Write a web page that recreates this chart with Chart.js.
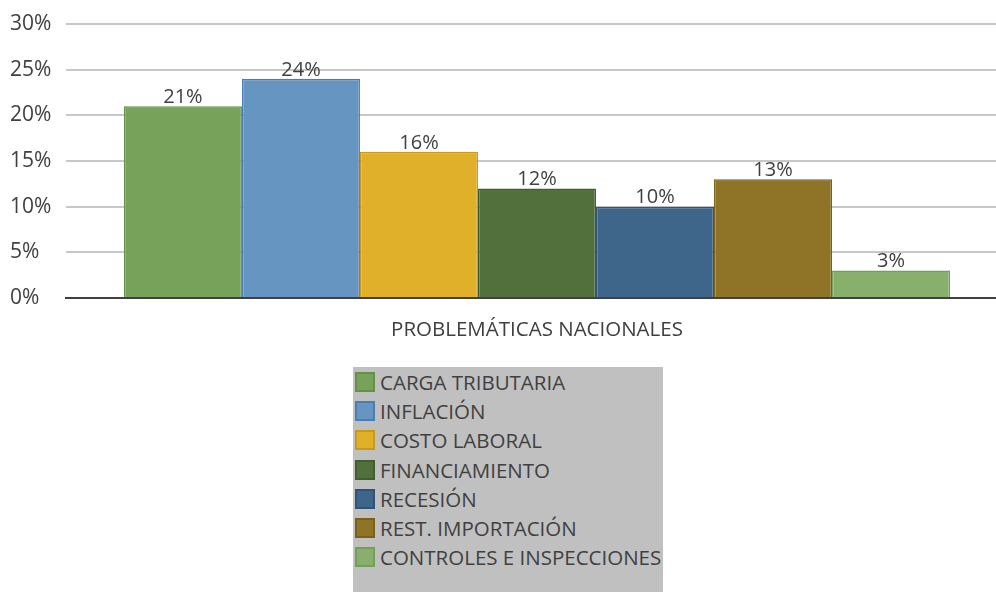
<!DOCTYPE html>
<html>
<head>
<meta charset="utf-8">
<script src="https://cdn.jsdelivr.net/npm/chart.js@4/dist/chart.umd.min.js"></script>
<style>
  body { margin: 0; background: #fff; font-family: "Open Sans", sans-serif; }
  #wrap { position: relative; width: 996px; height: 592px; overflow: hidden; }
  #legend {
    position: absolute; left: 353px; top: 367px; width: 310px; height: 240px;
    background: #c0c0c0; box-sizing: border-box; padding-top: 0px;
  }
  .item { height: 29.3px; display: flex; align-items: center; color: #404040;
    font-size: 20.5px; white-space: nowrap; }
  .sw { width: 20px; height: 20px; margin: 0 5px 0 2px; box-sizing: border-box; border: 2px solid; }
</style>
</head>
<body>
<div id="wrap">
  <canvas id="choreBarChart" width="1008" height="350"></canvas>
  <div id="legend"></div>
</div>
<script>
// categories / series
var categories = ['PROBLEMÁTICAS NACIONALES'];
var seriesNames = ['CARGA TRIBUTARIA', 'INFLACIÓN', 'COSTO LABORAL', 'FINANCIAMIENTO',
    'RECESIÓN', 'REST. IMPORTACIÓN', 'CONTROLES E INSPECCIONES'];
var seriesValues = [21, 24, 16, 12, 10, 13, 3];
var yTicks = [0, 5, 10, 15, 20, 25, 30];

var fills = ['#77a25a', '#6795c2', '#e0b02a', '#51703c', '#3e658a', '#8f7428', '#88b06c'];
var borders = ['#65904a', '#4a7db0', '#c89a18', '#415f2e', '#2f5478', '#7a6118', '#72a058'];

var datasets = seriesNames.map((name, i) => {
    return {
        label: name,
        data: [seriesValues[i]],
        backgroundColor: fills[i],
        borderColor: borders[i],
        borderWidth: 1.5,
        categoryPercentage: 0.877,
        barPercentage: 1
    };
});

// value labels over each bar
var valueLabels = {
    id: 'valueLabels',
    afterDatasetsDraw(chart) {
        var ctx = chart.ctx;
        ctx.save();
        ctx.font = '20px "Open Sans"';
        ctx.fillStyle = '#404040';
        ctx.textAlign = 'center';
        ctx.textBaseline = 'bottom';
        chart.data.datasets.forEach((ds, i) => {
            var bar = chart.getDatasetMeta(i).data[0];
            ctx.fillText(ds.data[0] + '%', bar.x, bar.y + 1);
        });
        ctx.restore();
    }
};

var chart = new Chart('choreBarChart', {
    type: 'bar',
    data: { labels: categories, datasets: datasets },
    plugins: [valueLabels],
    options: {
        responsive: false,
        animation: false,
        layout: { padding: { left: 10, right: 0, top: 24, bottom: 0 } },
        plugins: { legend: { display: false }, tooltip: { enabled: false } },
        scales: {
            x: {
                grid: { display: false },
                border: { color: '#404040', width: 2 },
                ticks: { color: '#404040', padding: 12, font: { family: 'Open Sans', size: 20.5 } },
                afterFit(scale) { scale.height = 52; }
            },
            y: {
                min: 0,
                max: 30,
                afterBuildTicks(scale) { scale.ticks = yTicks.map(v => ({ value: v })); },
                grid: { color: '#c8c8c8', lineWidth: 2, drawTicks: false },
                border: { display: false },
                ticks: {
                    color: '#404040',
                    padding: 0,
                    crossAlign: 'far',
                    font: { family: 'Open Sans', size: 21 },
                    callback: v => v + '%'
                },
                afterFit(scale) { scale.width = 56; }
            }
        }
    }
});

// legend box
var legend = document.getElementById('legend');
datasets.forEach(ds => {
    var row = document.createElement('div');
    row.className = 'item';
    var sw = document.createElement('span');
    sw.className = 'sw';
    sw.style.background = ds.backgroundColor;
    sw.style.borderColor = ds.borderColor;
    row.appendChild(sw);
    row.appendChild(document.createTextNode(ds.label));
    legend.appendChild(row);
});
</script>
</body>
</html>
